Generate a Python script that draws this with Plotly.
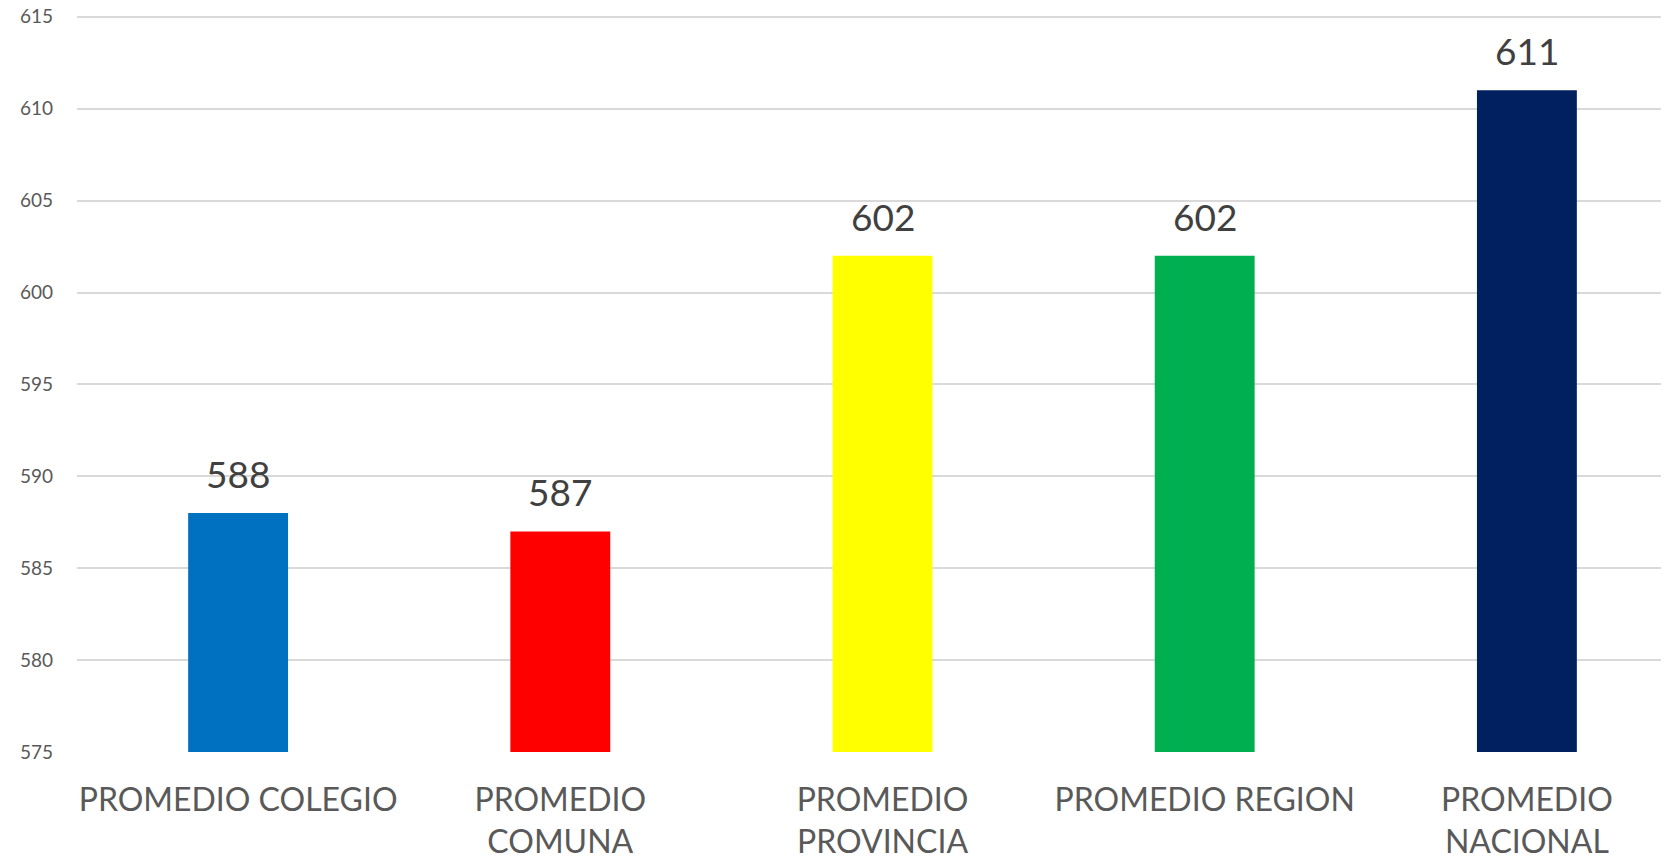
import plotly.graph_objects as go

categories = ["PROMEDIO COLEGIO", "PROMEDIO<br>COMUNA", "PROMEDIO<br>PROVINCIA", "PROMEDIO REGION", "PROMEDIO<br>NACIONAL"]
values = [588, 587, 602, 602, 611]
colors = ["#0070C0", "#FF0000", "#FFFF00", "#00B050", "#002060"]
y_ticks = [575, 580, 585, 590, 595, 600, 605, 610, 615]

FONT = "Lato, 'Open Sans', sans-serif"

fig = go.Figure()
fig.add_trace(go.Bar(
    x=categories, y=values, marker_color=colors, marker_line_width=0,
    width=0.31, showlegend=False, hoverinfo="x+y",
))

for c, v in zip(categories, values):
    fig.add_annotation(x=c, y=v, text=str(v), showarrow=False, yanchor="bottom",
                       yshift=15, font=dict(family=FONT, size=37, color="#404040"))

fig.update_layout(
    width=1690, height=862,
    margin=dict(l=69, r=10, t=7, b=118),
    plot_bgcolor="white", paper_bgcolor="white",
    xaxis=dict(showgrid=False, showline=False, ticks="", automargin=False,
               tickfont=dict(family=FONT, size=32, color="#595959"),
               ticklabelstandoff=26),
    yaxis=dict(range=[575, 615.1], tickvals=y_ticks, showgrid=True,
               gridcolor="#d9d9d9", gridwidth=1.5, zeroline=False,
               showline=False, ticks="", ticklabeloverflow="allow",
               automargin=False,
               tickfont=dict(family=FONT, size=19, color="#595959"),
               ticklabelstandoff=23),
)

fig.write_html("out.html")
